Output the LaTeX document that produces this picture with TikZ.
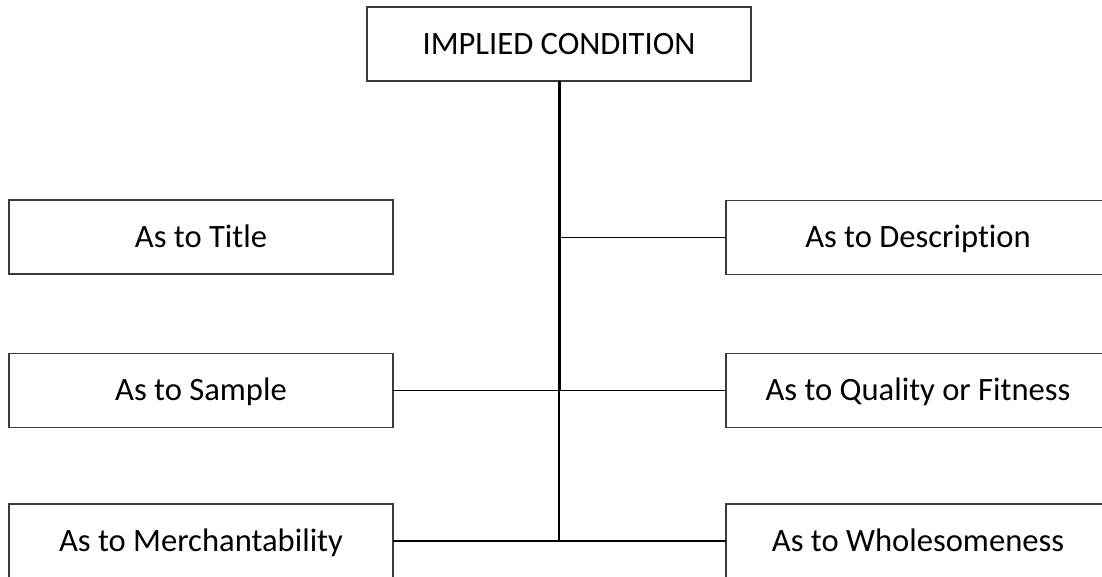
\documentclass[tikz,border=0pt]{standalone}
\usepackage{fontspec}
\setmainfont{Carlito}[Ligatures={NoCommon}]
\usepackage{tikz}
\usetikzlibrary{positioning,calc}
\definecolor{cink}{HTML}{000000}
\definecolor{cbox}{HTML}{3A3A3A}
\tikzset{
  cbox/.style  ={draw=cbox, line width=0.6pt, fill=white, inner sep=0pt, outer sep=0pt,
                 minimum width=192pt, minimum height=37pt, align=center,
                 text height=10.4pt, text depth=0pt,
                 font=\fontsize{16.3}{19}\selectfont},
  trunk/.style ={draw=cink, line width=1.5pt},
  link/.style  ={draw=cink, line width=0.8pt},
}
\begin{document}
\begin{tikzpicture}[x=0.5pt, y=-0.5pt]
  \clip (0,0) rectangle (1102,577);
  \useasboundingbox (0,0) rectangle (1102,577);
  % head
  \node[cbox] (cond) at (559,44) {IMPLIED CONDITION};
  % left column
  \node[cbox] (title) at (201,237) {As to Title};
  \node[cbox] (sample) at (201,390.5) {As to Sample};
  \node[cbox] (merch) at (201,541) {As to Merchantability};
  % right column
  \node[cbox] (desc) at (918,237.5) {As to Description};
  \node[cbox] (quality) at (918,390.5) {As to Quality or Fitness};
  \node[cbox] (whole) at (918,541) {As to Wholesomeness};
  % connectors
  \coordinate (jd) at (cond.south |- desc);
  \coordinate (js) at (cond.south |- sample);
  \coordinate (jm) at (cond.south |- merch);
  \draw[trunk] (cond.south) -- (js);
  \draw[link] (js) -- (jm);
  \draw[link] (jd) -- (desc.west);
  \draw[link] (sample.east) -- (quality.west);
  \draw[link] (merch.east) -- (whole.west);
\end{tikzpicture}
\end{document}
